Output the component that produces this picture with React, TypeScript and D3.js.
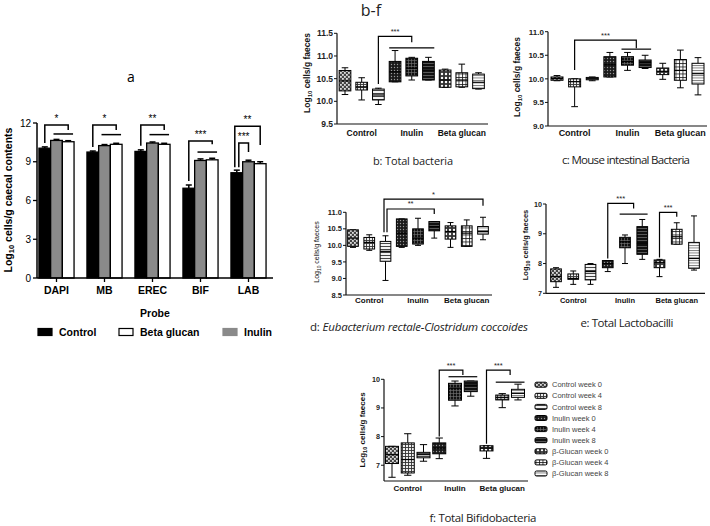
import React from 'react';
import * as d3 from 'd3';

// ---------- Panel a data ----------
const probes = ['DAPI', 'MB', 'EREC', 'BIF', 'LAB'];
const controlMeans = [10.05, 9.75, 9.8, 6.95, 8.15];
const inulinMeans = [10.65, 10.25, 10.45, 9.1, 9.0];
const betaMeans = [10.55, 10.35, 10.35, 9.15, 8.85];
const controlErr = [0.1, 0.08, 0.12, 0.25, 0.2];
const inulinErr = [0.08, 0.08, 0.08, 0.12, 0.12];
const betaErr = [0.08, 0.08, 0.08, 0.12, 0.15];
const yTicksA = [0, 3, 6, 9, 12];
const legendA = ['Control', 'Beta glucan', 'Inulin'];
const starsA = ['*', '*', '**', '***'];
const sigTopA = [11.85, 11.85, 11.85, 10.6];
const sigDropA = [11.45, 11.45, 11.45, 10.35];
const sigLineA = [11.15, 11.1, 11.1, 9.75];
const labStars = ['**', '***'];
const labTop = [11.75, 10.45];
const labDrop = [10.3, 9.75];

// ---------- Panels b-f data: [min, q1, median, q3, max] ----------
const boxGroups = ['Control', 'Inulin', 'Beta glucan'];
const legendF = ['Control week 0', 'Control week 4', 'Control week 8', 'Inulin week 0', 'Inulin week 4', 'Inulin week 8', 'β-Glucan week 0', 'β-Glucan week 4', 'β-Glucan week 8'];

const totalBacteria = [
  [10.15, 10.23, 10.45, 10.68, 10.74],
  [10.03, 10.25, 10.32, 10.42, 10.52],
  [9.93, 10.03, 10.14, 10.27, 10.29],
  [10.43, 10.43, 10.65, 10.88, 11.12],
  [10.47, 10.56, 10.73, 10.95, 10.97],
  [10.47, 10.47, 10.69, 10.88, 10.97],
  [10.31, 10.31, 10.47, 10.69, 10.71],
  [10.31, 10.32, 10.47, 10.63, 10.82],
  [10.27, 10.28, 10.42, 10.6, 10.63],
];
const mouseBacteria = [
  [9.96, 9.97, 10.01, 10.04, 10.07],
  [9.41, 9.83, 9.94, 10.0, 10.0],
  [9.96, 9.98, 10.0, 10.03, 10.04],
  [10.04, 10.04, 10.3, 10.47, 10.56],
  [10.18, 10.29, 10.37, 10.47, 10.56],
  [10.22, 10.24, 10.34, 10.4, 10.5],
  [9.99, 10.09, 10.16, 10.23, 10.33],
  [9.81, 9.97, 10.18, 10.41, 10.61],
  [9.66, 9.89, 10.11, 10.33, 10.45],
];
const erecClost = [
  [9.94, 9.97, 10.22, 10.47, 10.47],
  [9.85, 9.89, 10.09, 10.24, 10.32],
  [8.94, 9.52, 9.82, 10.12, 10.29],
  [9.94, 9.97, 10.37, 10.8, 10.8],
  [10.0, 10.04, 10.22, 10.5, 10.82],
  [10.22, 10.44, 10.57, 10.72, 10.72],
  [9.94, 10.19, 10.42, 10.59, 10.69],
  [9.97, 9.97, 10.37, 10.59, 10.77],
  [10.17, 10.34, 10.42, 10.57, 10.85],
];
const lactobacilli = [
  [7.2, 7.39, 7.56, 7.82, 7.86],
  [7.3, 7.47, 7.5, 7.65, 7.75],
  [7.3, 7.45, 7.73, 7.97, 8.0],
  [7.73, 7.86, 8.0, 8.1, 8.1],
  [8.0, 8.53, 8.73, 8.88, 8.96],
  [8.14, 8.31, 8.68, 9.24, 9.48],
  [7.56, 7.86, 8.04, 8.12, 8.14],
  [8.65, 8.65, 8.9, 9.15, 9.37],
  [7.78, 7.84, 8.17, 8.71, 9.6],
];
const bifido = [
  [6.58, 7.06, 7.37, 7.66, 7.66],
  [6.65, 6.73, 7.2, 7.78, 8.1],
  [7.14, 7.26, 7.37, 7.45, 7.72],
  [7.23, 7.4, 7.6, 7.78, 7.95],
  [9.07, 9.27, 9.69, 9.86, 9.94],
  [9.41, 9.57, 9.8, 9.94, 9.94],
  [7.24, 7.5, 7.6, 7.68, 7.68],
  [9.01, 9.28, 9.36, 9.45, 9.5],
  [9.28, 9.37, 9.51, 9.65, 9.83],
];
const ticksB = [9.5, 10.0, 10.5, 11.0, 11.5];
const ticksC = [9.0, 9.5, 10.0, 10.5, 11.0];
const ticksD = [8.5, 9.0, 9.5, 10.0, 10.5, 11.0];
const ticksE = [7, 8, 9, 10];
const ticksF = [7, 8, 9, 10];

type Bracket = { from: number; to: number; yFrom: number; yTop: number; yDrop: number; label: string; dx?: number };
type SLine = { from: number; to: number; y: number };

const bracketsB: Bracket[] = [{ from: 2, to: 4, yFrom: 10.38, yTop: 11.43, yDrop: 11.3, label: '***' }];
const linesB: SLine[] = [{ from: 3, to: 5, y: 11.18 }];
const bracketsC: Bracket[] = [{ from: 1, to: 4.5, yFrom: 10.19, yTop: 10.82, yDrop: 10.65, label: '***' }];
const linesC: SLine[] = [{ from: 4, to: 5, y: 10.63 }];
const bracketsD: Bracket[] = [
  { from: 2, to: 8, yFrom: 10.4, yTop: 11.4, yDrop: 11.2, label: '*', dx: -1.5 },
  { from: 2, to: 5, yFrom: 10.4, yTop: 11.1, yDrop: 10.95, label: '**', dx: 1.5 },
];
const bracketsE: Bracket[] = [
  { from: 3, to: 4.5, yFrom: 8.17, yTop: 10.02, yDrop: 9.85, label: '***' },
  { from: 6, to: 7, yFrom: 8.2, yTop: 9.72, yDrop: 9.57, label: '***' },
];
const linesE: SLine[] = [{ from: 4, to: 5, y: 9.66 }];
const bracketsF: Bracket[] = [
  { from: 3, to: 4.5, yFrom: 8.0, yTop: 10.32, yDrop: 10.15, label: '***' },
  { from: 6, to: 7.5, yFrom: 7.75, yTop: 10.32, yDrop: 10.15, label: '***' },
];
const linesF: SLine[] = [{ from: 4, to: 5, y: 10.09 }, { from: 7, to: 8, y: 9.9 }];

const SANS = "'Liberation Sans', Arial, sans-serif";
const CAP = "'Open Sans', 'Noto Sans', sans-serif";

function Patterns() {
  return (
    <defs>
      <pattern id="p0" width="4" height="4" patternUnits="userSpaceOnUse">
        <rect width="4" height="4" fill="#444" />
        <rect x="0" y="0" width="1.8" height="1.8" fill="#ddd" />
        <rect x="2" y="2" width="1.8" height="1.8" fill="#ddd" />
      </pattern>
      <pattern id="p1" width="3" height="3" patternUnits="userSpaceOnUse">
        <rect width="3" height="3" fill="#eee" />
        <path d="M0 0.5H3M0.5 0V3" stroke="#333" strokeWidth="0.9" />
      </pattern>
      <pattern id="p2" width="3" height="3" patternUnits="userSpaceOnUse">
        <rect width="3" height="3" fill="#f2f2f2" />
        <path d="M0 0.5H3" stroke="#444" strokeWidth="1" />
      </pattern>
      <pattern id="p3" width="3" height="3" patternUnits="userSpaceOnUse">
        <rect width="3" height="3" fill="#1a1a1a" />
        <circle cx="1.5" cy="1.5" r="0.7" fill="#999" />
      </pattern>
      <pattern id="p4" width="3" height="3" patternUnits="userSpaceOnUse">
        <rect width="3" height="3" fill="#111" />
        <path d="M0 0.5H3M0.5 0V3" stroke="#777" strokeWidth="0.6" />
      </pattern>
      <pattern id="p5" width="3" height="3" patternUnits="userSpaceOnUse">
        <rect width="3" height="3" fill="#111" />
        <path d="M0 0.5H3" stroke="#888" strokeWidth="0.6" />
      </pattern>
      <pattern id="p6" width="4" height="4" patternUnits="userSpaceOnUse">
        <rect width="4" height="4" fill="#333" />
        <circle cx="2" cy="2" r="1.2" fill="#fff" />
      </pattern>
      <pattern id="p7" width="3.5" height="3.5" patternUnits="userSpaceOnUse">
        <rect width="3.5" height="3.5" fill="#fff" />
        <path d="M0 0.5H3.5M0.5 0V3.5" stroke="#111" strokeWidth="0.8" />
      </pattern>
      <pattern id="p8" width="2.5" height="2.5" patternUnits="userSpaceOnUse">
        <rect width="2.5" height="2.5" fill="#fff" />
        <path d="M0 0.5H2.5" stroke="#666" strokeWidth="0.8" />
      </pattern>
    </defs>
  );
}

function PanelA() {
  const y = d3.scaleLinear().domain([0, 12]).range([278, 123]);
  const x = d3.scalePoint<string>().domain(probes).range([56.5, 248.5]);
  const bw = 11.7;
  const series = [
    { v: controlMeans, e: controlErr, fill: '#000', off: -1 },
    { v: inulinMeans, e: inulinErr, fill: '#8a8a8a', off: 0 },
    { v: betaMeans, e: betaErr, fill: '#fff', off: 1 },
  ];
  const ax0 = 37, ax1 = 273;
  return (
    <g fontFamily={SANS}>
      <text x={131} y={82} fontSize={14} textAnchor="middle" fontFamily={CAP}>a</text>
      {series.map((s, si) =>
        probes.map((p, i) => {
          const cx = x(p)! + s.off * bw;
          return (
            <g key={`${si}-${i}`}>
              <line x1={cx} x2={cx} y1={y(s.v[i])} y2={y(s.v[i] + s.e[i])} stroke="#000" strokeWidth={1.5} />
              <line x1={cx - 3} x2={cx + 3} y1={y(s.v[i] + s.e[i])} y2={y(s.v[i] + s.e[i])} stroke="#000" strokeWidth={1.5} />
              <rect x={cx - bw / 2} y={y(s.v[i])} width={bw} height={y(0) - y(s.v[i])} fill={s.fill} stroke="#000" strokeWidth={1.3} />
            </g>
          );
        })
      )}
      {starsA.map((st, i) => {
        const cx = x(probes[i])!;
        const xl = cx - bw, xr = cx + bw;
        const top = y(sigTopA[i]);
        return (
          <g key={'s' + i} stroke="#000" strokeWidth={1.5} fill="none">
            <path d={`M${xl},${y(controlMeans[i] + controlErr[i]) - 4}V${top}H${xr}V${y(sigDropA[i])}`} />
            <line x1={cx - 3} x2={xr + bw / 2 - 1} y1={y(sigLineA[i])} y2={y(sigLineA[i])} />
            <text x={(xl + xr) / 2} y={top - 3} fontSize={10} textAnchor="middle" stroke="none" fill="#000">{st}</text>
          </g>
        );
      })}
      {labStars.map((st, k) => {
        const cx = x('LAB')!;
        const xl = cx - bw - 2 + k * 4;
        const xr = k === 0 ? cx + bw : cx;
        const top = y(labTop[k]);
        return (
          <g key={'l' + k} stroke="#000" strokeWidth={1.5} fill="none">
            <path d={`M${xl},${y(controlMeans[4] + controlErr[4]) - 3}V${top}H${xr}V${y(labDrop[k])}`} />
            <text x={(xl + xr) / 2} y={top - 3} fontSize={10} textAnchor="middle" stroke="none" fill="#000">{st}</text>
          </g>
        );
      })}
      <line x1={ax0} x2={ax0} y1={y(0)} y2={y(12)} stroke="#000" strokeWidth={1.5} />
      <line x1={ax0} x2={ax1} y1={y(0)} y2={y(0)} stroke="#000" strokeWidth={1.5} />
      {yTicksA.map((t) => (
        <g key={t}>
          <line x1={ax0 - 4} x2={ax0} y1={y(t)} y2={y(t)} stroke="#000" strokeWidth={1.3} />
          <text x={ax0 - 6} y={y(t) + 3.5} fontSize={10} textAnchor="end">{t}</text>
        </g>
      ))}
      {probes.map((p) => (
        <g key={p}>
          <line x1={x(p)} x2={x(p)} y1={y(0)} y2={y(0) + 4} stroke="#000" strokeWidth={1.3} />
          <text x={x(p)} y={294} fontSize={10.5} fontWeight="bold" textAnchor="middle">{p}</text>
        </g>
      ))}
      <text x={155} y={317} fontSize={10.5} fontWeight="bold" textAnchor="middle">Probe</text>
      <text transform="translate(12,200) rotate(-90)" fontSize={10.5} fontWeight="bold" textAnchor="middle">
        Log<tspan fontSize={7.5} dy={2}>10</tspan><tspan dy={-2}> cells/g caecal contents</tspan>
      </text>
      {legendA.map((l, i) => {
        const lx = [38, 119, 223][i];
        const fill = ['#000', '#fff', '#8a8a8a'][i];
        return (
          <g key={l}>
            <rect x={lx} y={328.5} width={14} height={7} fill={fill} stroke={i === 1 ? '#000' : fill} strokeWidth={1.2} />
            <text x={lx + 21} y={336} fontSize={10.5} fontWeight="bold">{l}</text>
          </g>
        );
      })}
    </g>
  );
}

type PanelProps = {
  data: number[][];
  domain: [number, number];
  yr: [number, number];
  ax: [number, number];
  cr: [number, number];
  bw: number;
  ticks: number[];
  fmt: string;
  tickFs: number;
  lab: { x: number; y: number; fs: number; bold: boolean; text: string };
  grpY: number;
  grpFs: number;
  brackets: Bracket[];
  lines: SLine[];
  caption: { x: number; y: number; w: number; fs: number; prefix: string; rest: string; italic: boolean };
};

function BoxPanel(props: PanelProps) {
  const { data, domain, yr, ax, cr, bw, ticks, fmt, tickFs, lab, grpY, grpFs, brackets, lines, caption } = props;
  const y = d3.scaleLinear().domain(domain).range(yr);
  const x = d3.scalePoint<number>().domain(d3.range(data.length)).range(cr);
  const step = x.step();
  const xc = (i: number) => x(Math.floor(i))! + (i - Math.floor(i)) * step;
  const f = d3.format(fmt);
  const tmax = d3.max(ticks)!;
  return (
    <g fontFamily={SANS}>
      {data.map((d, i) => {
        const cx = x(i)!;
        const [mn, q1, md, q3, mx] = d;
        return (
          <g key={i} stroke="#000" strokeWidth={1}>
            <line x1={cx} x2={cx} y1={y(mx)} y2={y(q3)} />
            <line x1={cx} x2={cx} y1={y(q1)} y2={y(mn)} />
            <line x1={cx - bw * 0.28} x2={cx + bw * 0.28} y1={y(mx)} y2={y(mx)} />
            <line x1={cx - bw * 0.28} x2={cx + bw * 0.28} y1={y(mn)} y2={y(mn)} />
            <rect x={cx - bw / 2} y={y(q3)} width={bw} height={Math.max(1, y(q1) - y(q3))} fill={`url(#p${i})`} />
            <line x1={cx - bw / 2} x2={cx + bw / 2} y1={y(md)} y2={y(md)} strokeWidth={1.2} />
          </g>
        );
      })}
      {brackets.map((b, i) => {
        const xl = xc(b.from) + (b.dx || 0);
        const xr = xc(b.to);
        return (
          <g key={'b' + i}>
            <path d={`M${xl},${y(b.yFrom)}V${y(b.yTop)}H${xr}V${y(b.yDrop)}`} fill="none" stroke="#000" strokeWidth={1.2} />
            <text x={(xl + xr) / 2} y={y(b.yTop) - 2.5} fontSize={7.5} textAnchor="middle" fill="#222">{b.label}</text>
          </g>
        );
      })}
      {lines.map((l, i) => (
        <line key={'l' + i} x1={x(l.from)! - bw / 2} x2={x(l.to)! + bw / 2} y1={y(l.y)} y2={y(l.y)} stroke="#000" strokeWidth={1.2} />
      ))}
      <line x1={ax[0]} x2={ax[0]} y1={y(domain[0])} y2={y(tmax)} stroke="#111" strokeWidth={1.2} />
      <line x1={ax[0]} x2={ax[1]} y1={y(domain[0])} y2={y(domain[0])} stroke="#111" strokeWidth={1.2} />
      {ticks.map((t) => (
        <g key={t}>
          <line x1={ax[0] - 3} x2={ax[0]} y1={y(t)} y2={y(t)} stroke="#111" strokeWidth={1} />
          <text x={ax[0] - 4} y={y(t) + tickFs * 0.35} fontSize={tickFs} fontWeight="bold" textAnchor="end" fill="#222">{f(t)}</text>
        </g>
      ))}
      {boxGroups.map((g, i) => (
        <text key={g} x={x(i * 3 + 1)} y={grpY + grpFs * 0.35} fontSize={grpFs} fontWeight="bold" textAnchor="middle" fill="#111">{g}</text>
      ))}
      <text transform={`translate(${lab.x},${lab.y}) rotate(-90)`} fontSize={lab.fs} fontWeight={lab.bold ? 'bold' : 'normal'} textAnchor="middle" fill="#111">
        Log<tspan fontSize={lab.fs * 0.7} dy={1.5}>10</tspan><tspan dy={-1.5}>{lab.text}</tspan>
      </text>
      <text x={caption.x} y={caption.y + caption.fs * 0.35} fontSize={caption.fs} textAnchor="middle" fontFamily={CAP} fill="#222" textLength={caption.w} lengthAdjust="spacing">
        {caption.prefix}<tspan fontStyle={caption.italic ? 'italic' : 'normal'}>{caption.rest}</tspan>
      </text>
    </g>
  );
}

function LegendF() {
  return (
    <g fontFamily={SANS}>
      {legendF.map((l, i) => {
        const cy = 384.7 + 11.1 * i;
        return (
          <g key={l}>
            <rect x={535} y={cy - 2.5} width={12} height={5} rx={1.5} fill={`url(#p${i})`} stroke="#000" strokeWidth={1} />
            <text x={552} y={cy + 2.6} fontSize={7.5} fill="#444">{l}</text>
          </g>
        );
      })}
    </g>
  );
}

export default function App() {
  return (
    <svg width={710} height={526} style={{ position: 'absolute', left: 0, top: 0, background: '#fff' }}>
      <Patterns />
      <rect width={710} height={526} fill="#fff" />
      <PanelA />
      <text x={371} y={16} fontSize={16} textAnchor="middle" fontFamily={CAP} fill="#222">b-f</text>
      <BoxPanel data={totalBacteria} domain={[9.5, 11.5]} yr={[124, 33.3]} ax={[337, 488]} cr={[345, 478.5]} bw={11.7}
        ticks={ticksB} fmt=".1f" tickFs={8.5} lab={{ x: 310, y: 73, fs: 8.5, bold: true, text: ' cells/g faeces' }}
        grpY={133} grpFs={8.5} brackets={bracketsB} lines={linesB}
        caption={{ x: 413, y: 161, w: 80, fs: 11, prefix: 'b: Total bacteria', rest: '', italic: false }} />
      <BoxPanel data={mouseBacteria} domain={[9, 11]} yr={[126, 31.7]} ax={[548, 707]} cr={[557, 698]} bw={12}
        ticks={ticksC} fmt=".1f" tickFs={8} lab={{ x: 520, y: 77, fs: 8.5, bold: true, text: ' cells/g faeces' }}
        grpY={133} grpFs={9} brackets={bracketsC} lines={linesC}
        caption={{ x: 626, y: 160, w: 128, fs: 11.5, prefix: 'c: Mouse intestinal Bacteria', rest: '', italic: false }} />
      <BoxPanel data={erecClost} domain={[8.5, 11]} yr={[295, 212.3]} ax={[346, 492]} cr={[353, 483]} bw={10.7}
        ticks={ticksD} fmt=".1f" tickFs={7.5} lab={{ x: 319, y: 252, fs: 7, bold: false, text: ' cells/g faeces' }}
        grpY={300} grpFs={8} brackets={bracketsD} lines={[]}
        caption={{ x: 419, y: 327, w: 218, fs: 11.5, prefix: 'd: ', rest: 'Eubacterium rectale-Clostridum coccoides', italic: true }} />
      <BoxPanel data={lactobacilli} domain={[7, 10]} yr={[293.3, 204]} ax={[546, 705]} cr={[556, 694]} bw={10.7}
        ticks={ticksE} fmt="d" tickFs={7.2} lab={{ x: 528, y: 245, fs: 7.5, bold: true, text: ' cells/g faeces' }}
        grpY={300} grpFs={7.5} brackets={bracketsE} lines={linesE}
        caption={{ x: 627, y: 323, w: 93, fs: 11.5, prefix: 'e: Total Lactobacilli', rest: '', italic: false }} />
      <BoxPanel data={bifido} domain={[6.45, 10]} yr={[481, 379.3]} ax={[384, 528]} cr={[392, 518]} bw={13}
        ticks={ticksF} fmt="d" tickFs={7.2} lab={{ x: 365, y: 430, fs: 8, bold: true, text: ' cells/g faeces' }}
        grpY={488} grpFs={8} brackets={bracketsF} lines={linesF}
        caption={{ x: 483, y: 518, w: 107, fs: 11.5, prefix: 'f: Total Bifidobacteria', rest: '', italic: false }} />
      <LegendF />
    </svg>
  );
}
